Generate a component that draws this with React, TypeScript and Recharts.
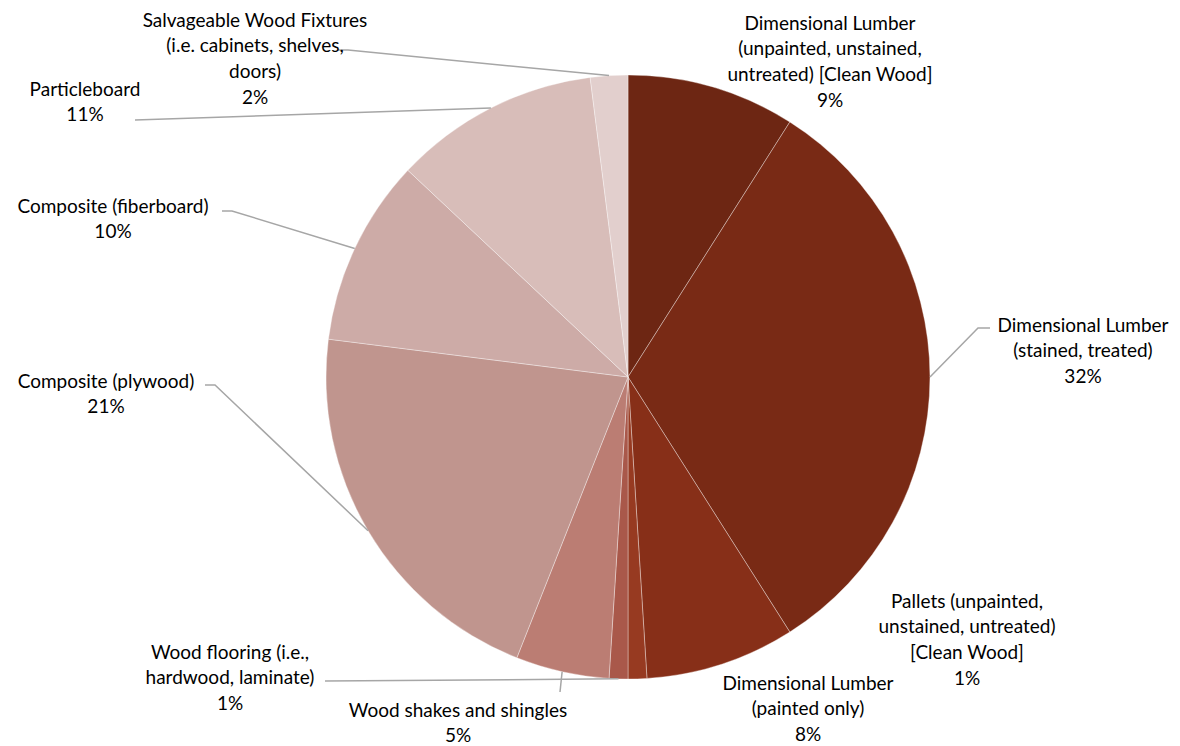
import { Cell, Pie, PieChart } from "recharts"

const categories = [
  "Dimensional Lumber (unpainted, unstained, untreated) [Clean Wood]",
  "Dimensional Lumber (stained, treated)",
  "Dimensional Lumber (painted only)",
  "Pallets (unpainted, unstained, untreated) [Clean Wood]",
  "Wood flooring (i.e., hardwood, laminate)",
  "Wood shakes and shingles",
  "Composite (plywood)",
  "Composite (fiberboard)",
  "Particleboard",
  "Salvageable Wood Fixtures (i.e. cabinets, shelves, doors)",
]

const shares = [9, 32, 8, 1, 1, 5, 21, 10, 11, 2]

// label text broken into lines the way it is printed
const labelLines = [
  ["Dimensional Lumber", "(unpainted, unstained,", "untreated) [Clean Wood]"],
  ["Dimensional Lumber", "(stained, treated)"],
  ["Dimensional Lumber", "(painted only)"],
  ["Pallets (unpainted,", "unstained, untreated)", "[Clean Wood]"],
  ["Wood flooring (i.e.,", "hardwood, laminate)"],
  ["Wood shakes and shingles"],
  ["Composite (plywood)"],
  ["Composite (fiberboard)"],
  ["Particleboard"],
  ["Salvageable Wood Fixtures", "(i.e. cabinets, shelves,", "doors)"],
]

const colors = [
  "#6D2613",
  "#792A15",
  "#872F18",
  "#973A21",
  "#A9584A",
  "#BB7D73",
  "#C0958E",
  "#CDABA7",
  "#D8BDB9",
  "#E2CFCD",
]

// where each label block sits (center x, first line y) and the bend points of its leader
const labelLayout: { x: number; y: number; leader: number[][] | null }[] = [
  { x: 830, y: 22, leader: null },
  { x: 1083, y: 324, leader: [[978, 328], [990, 328]] },
  { x: 808, y: 682, leader: null },
  { x: 967, y: 600, leader: null },
  { x: 230, y: 651, leader: [[325, 681]] },
  { x: 458, y: 709, leader: [[560, 692]] },
  { x: 106, y: 380, leader: [[215, 385], [205, 385]] },
  { x: 113, y: 205, leader: [[232, 211], [222, 211]] },
  { x: 85, y: 88, leader: [[135, 120]] },
  { x: 255, y: 19, leader: [[348, 50], [338, 50]] },
]

const data = categories.map((name, i) => ({ name, value: shares[i] }))

const RAD = Math.PI / 180
const LINE_H = 25.7

function renderLabel(props: any) {
  const { cx, cy, midAngle, outerRadius, index, percent } = props
  const layout = labelLayout[index]
  const lines = [...labelLines[index], `${Math.round(percent * 100)}%`]
  let leader = null
  if (layout.leader) {
    const sx = cx + outerRadius * Math.cos(-midAngle * RAD)
    const sy = cy + outerRadius * Math.sin(-midAngle * RAD)
    const pts = [[sx, sy], ...layout.leader].map((p) => p.join(",")).join(" ")
    leader = <polyline points={pts} fill="none" stroke="#A6A6A6" strokeWidth={1.5} />
  }
  return (
    <g key={`lbl-${index}`}>
      {leader}
      {lines.map((t, j) => (
        <text
          key={j}
          x={layout.x}
          y={layout.y + j * LINE_H}
          textAnchor="middle"
          dominantBaseline="central"
          fontFamily="Lato, 'Open Sans', sans-serif"
          fontSize={19}
          fill="#000"
        >
          {t}
        </text>
      ))}
    </g>
  )
}

export default function App() {
  return (
    <div style={{ position: "absolute", left: 0, top: 0, width: 1180, height: 746, background: "#fff" }}>
      <PieChart width={1180} height={746} margin={{ top: 0, right: 0, bottom: 0, left: 0 }}>
        <Pie
          data={data}
          dataKey="value"
          nameKey="name"
          cx={628}
          cy={377}
          outerRadius={302}
          startAngle={90}
          endAngle={-270}
          stroke="rgba(255,255,255,0.35)"
          strokeWidth={1}
          label={renderLabel}
          labelLine={false}
          isAnimationActive={false}
        >
          {data.map((d, i) => (
            <Cell key={d.name} fill={colors[i]} />
          ))}
        </Pie>
      </PieChart>
    </div>
  )
}
